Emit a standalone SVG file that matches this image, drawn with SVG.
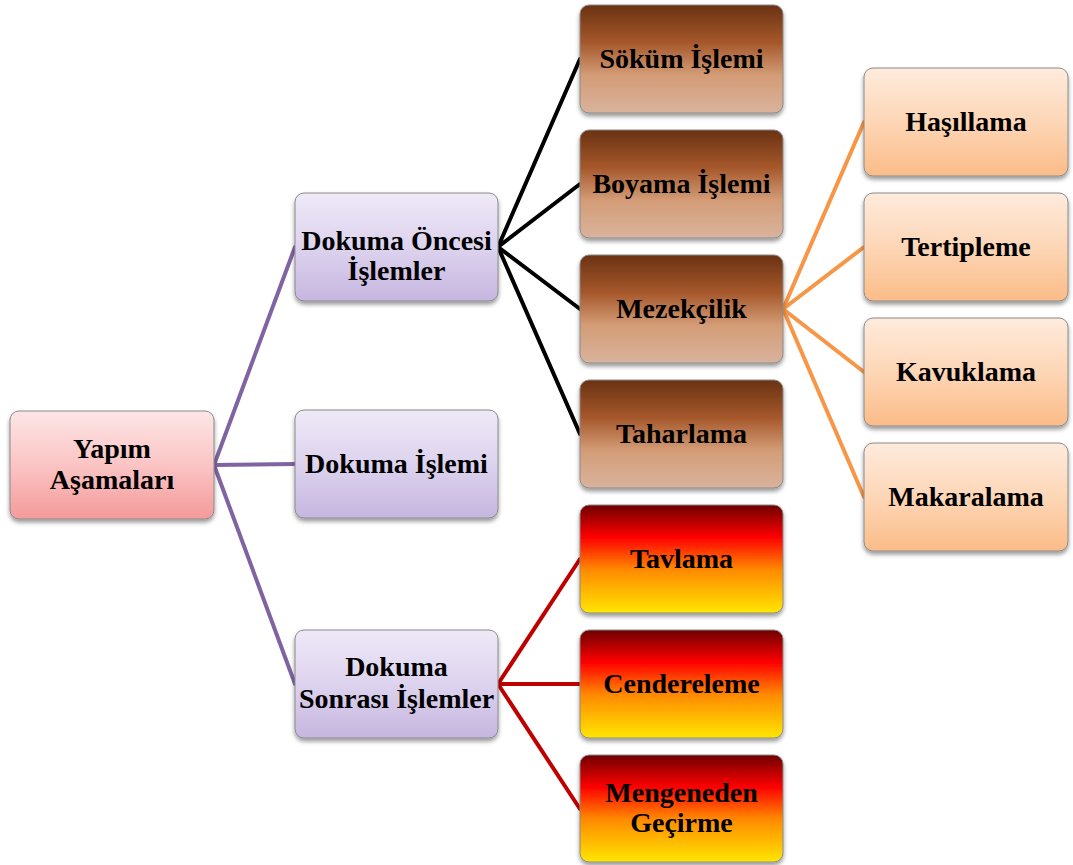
<svg xmlns="http://www.w3.org/2000/svg" width="1073" height="865" viewBox="0 0 1073 865">
<style>
.n{stroke:#8a8a8a;stroke-width:1;filter:url(#sh)}
.t{font-family:"Liberation Serif","Times New Roman",serif;font-weight:bold;font-size:28px;fill:#000;text-anchor:middle}
.c{fill:none;stroke-width:4;stroke-linecap:round}
</style>
<defs>
<filter id="sh" x="-10%" y="-10%" width="120%" height="130%">
<feDropShadow dx="0" dy="3" stdDeviation="2" flood-color="#000" flood-opacity="0.4"/>
</filter>
<linearGradient id="gPink" x1="0" y1="0" x2="0" y2="1">
<stop offset="0" stop-color="#FDE6E6"/><stop offset="0.5" stop-color="#FBC4C4"/><stop offset="1" stop-color="#F59A9A"/>
</linearGradient>
<linearGradient id="gPurple" x1="0" y1="0" x2="0" y2="1">
<stop offset="0" stop-color="#EFE9F7"/><stop offset="0.5" stop-color="#DDD3EE"/><stop offset="1" stop-color="#C6B6E0"/>
</linearGradient>
<linearGradient id="gBrown" x1="0" y1="0" x2="0" y2="1">
<stop offset="0" stop-color="#6A3213"/><stop offset="0.35" stop-color="#A6582B"/><stop offset="0.65" stop-color="#D39C76"/><stop offset="1" stop-color="#D9B39D"/>
</linearGradient>
<linearGradient id="gOrange" x1="0" y1="0" x2="0" y2="1">
<stop offset="0" stop-color="#FEEBDD"/><stop offset="0.5" stop-color="#FDD6B6"/><stop offset="1" stop-color="#FBBC88"/>
</linearGradient>
<linearGradient id="gFire" x1="0" y1="0" x2="0" y2="1">
<stop offset="0" stop-color="#6E0000"/><stop offset="0.3" stop-color="#FF0000"/><stop offset="0.6" stop-color="#FF8A00"/><stop offset="1" stop-color="#FFE600"/>
</linearGradient>
</defs>

<g id="connectors">
<path class="c" stroke="#8064A2" d="M214 465L295 247M214 465L295 464M214 465L295 684"/>
<path class="c" stroke="#000" d="M498 247L580 59M498 247L580 184M498 247L580 309M498 247L580 434"/>
<path class="c" stroke="#F79646" d="M783 309L864 122M783 309L864 247M783 309L864 372M783 309L864 497"/>
<path class="c" stroke="#C00000" d="M498 684L580 559M498 684L580 684M498 684L580 809"/>
</g>

<g id="yapim"><rect class="n" x="10" y="411" width="204" height="108" rx="9" fill="url(#gPink)"/>
<text class="t" x="112" y="458">Yapım</text><text class="t" x="112" y="489">Aşamaları</text></g>

<g id="dokuma-oncesi"><rect class="n" x="295" y="193" width="203" height="108" rx="9" fill="url(#gPurple)"/>
<text class="t" x="396.5" y="250">Dokuma Öncesi</text><text class="t" x="396.5" y="280">İşlemler</text></g>

<g id="dokuma-islemi"><rect class="n" x="295" y="410" width="203" height="108" rx="9" fill="url(#gPurple)"/>
<text class="t" x="396.5" y="473">Dokuma İşlemi</text></g>

<g id="dokuma-sonrasi"><rect class="n" x="295" y="630" width="203" height="108" rx="9" fill="url(#gPurple)"/>
<text class="t" x="396.5" y="676">Dokuma</text><text class="t" x="396.5" y="708">Sonrası İşlemler</text></g>

<g id="sokum"><rect class="n" x="580" y="5" width="203" height="108" rx="9" fill="url(#gBrown)"/>
<text class="t" x="681.5" y="68">Söküm İşlemi</text></g>

<g id="boyama"><rect class="n" x="580" y="130" width="203" height="108" rx="9" fill="url(#gBrown)"/>
<text class="t" x="681.5" y="193">Boyama İşlemi</text></g>

<g id="mezekcilik"><rect class="n" x="580" y="255" width="203" height="108" rx="9" fill="url(#gBrown)"/>
<text class="t" x="681.5" y="318">Mezekçilik</text></g>

<g id="taharlama"><rect class="n" x="580" y="380" width="203" height="108" rx="9" fill="url(#gBrown)"/>
<text class="t" x="681.5" y="443">Taharlama</text></g>

<g id="hasillama"><rect class="n" x="864" y="68" width="204" height="108" rx="9" fill="url(#gOrange)"/>
<text class="t" x="966" y="131">Haşıllama</text></g>

<g id="tertipleme"><rect class="n" x="864" y="193" width="204" height="108" rx="9" fill="url(#gOrange)"/>
<text class="t" x="966" y="256">Tertipleme</text></g>

<g id="kavuklama"><rect class="n" x="864" y="318" width="204" height="108" rx="9" fill="url(#gOrange)"/>
<text class="t" x="966" y="381">Kavuklama</text></g>

<g id="makaralama"><rect class="n" x="864" y="443" width="204" height="108" rx="9" fill="url(#gOrange)"/>
<text class="t" x="966" y="506">Makaralama</text></g>

<g id="tavlama"><rect class="n" x="580" y="505" width="203" height="108" rx="9" fill="url(#gFire)"/>
<text class="t" x="681.5" y="568">Tavlama</text></g>

<g id="cendereleme"><rect class="n" x="580" y="630" width="203" height="108" rx="9" fill="url(#gFire)"/>
<text class="t" x="681.5" y="693">Cendereleme</text></g>

<g id="mengeneden"><rect class="n" x="580" y="755" width="203" height="107" rx="9" fill="url(#gFire)"/>
<text class="t" x="681.5" y="802">Mengeneden</text><text class="t" x="681.5" y="832">Geçirme</text></g>
</svg>
